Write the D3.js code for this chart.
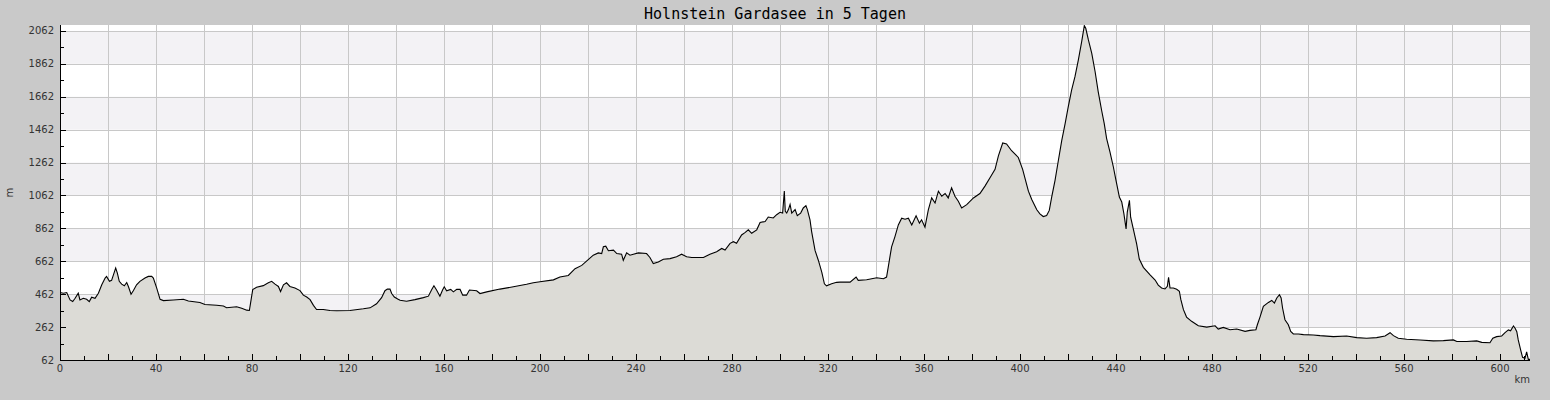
<!DOCTYPE html>
<html>
<head>
<meta charset="utf-8">
<script src="https://cdn.jsdelivr.net/npm/d3@7"></script>
<style>
    body { margin: 0; background: #c9c9c9; }
    svg { display: block; }
</style>
</head>
<body>
<div id="chart"></div>
<script>
// Tour profile: distance (km) and elevation (m)
const distanceKm = [
    0, 1.4, 2.8, 4.2, 5.3, 6.3, 7.6, 8.3, 9.7, 11.1, 12.2, 13.2, 14.6, 16.0, 17.4, 18.8, 19.4, 20.6, 21.5, 22.5,
    23.2, 23.9, 24.7, 25.7, 26.8, 27.8, 28.5, 29.6, 30.6, 31.9, 33.3, 35.4, 36.8, 38.2, 38.9, 40.3, 41.7, 43.1, 47.2, 51.4,
    53.5, 58.3, 60.4, 65.3, 68.1, 69.4, 73.6, 75.7, 77.8, 78.9, 79.4, 80.3, 81.9, 84.7, 86.8, 88.2, 89.6, 91.0, 91.9, 93.1,
    94.4, 95.8, 97.9, 100, 101.4, 102.8, 104.2, 105.6, 106.9, 109.7, 112.5, 115.3, 120.8, 126.4, 129.2, 131.9, 134.0, 135.4, 136.4, 137.5,
    138.2, 139.3, 140.7, 141.7, 144.4, 147.9, 151.4, 153.5, 154.9, 155.8, 156.9, 158.3, 159.4, 160.1, 161.1, 162.8, 163.9, 165.3, 166.7, 167.8,
    169.4, 170.6, 173.6, 175.0, 177.8, 183.3, 188.9, 194.4, 197.2, 200, 205.6, 208.3, 211.8, 214.6, 217.4, 220.1, 222.2, 224.3, 225.7, 226.4,
    227.4, 228.5, 230.6, 232.0, 234.0, 234.7, 236.1, 237.5, 238.9, 241.0, 244.4, 245.8, 247.2, 249.3, 251.4, 254.2, 256.9, 259.0, 261.1, 263.2,
    268.1, 270.8, 273.6, 275.7, 277.1, 279.2, 280.6, 281.9, 284.0, 285.4, 286.8, 288.2, 290.3, 291.7, 293.8, 295.1, 297.2, 298.6, 300, 301.1,
    301.8, 302.2, 302.8, 303.5, 304.2, 304.9, 306.3, 307.2, 308.6, 309.7, 310.8, 311.4, 312.5, 313.2, 314.6, 316.0, 317.4, 318.5, 319.4, 321.5,
    323.6, 325, 329.2, 331.7, 332.6, 336.1, 340.3, 343.1, 344.4, 345.1, 346.5, 347.9, 349.3, 350.7, 352.1, 353.5, 354.9, 356.7, 358.1, 359.0,
    360.4, 361.8, 363.2, 364.6, 366.0, 367.4, 368.8, 370.1, 371.5, 372.9, 374.3, 375.7, 377.8, 380.6, 383.3, 385.4, 387.5, 389.6, 391.0, 392.8,
    394.4, 396.5, 399.3, 401.1, 403.5, 404.9, 407.0, 408.3, 409.7, 411.1, 412.2, 413.2, 414.6, 416.0, 417.4, 418.8, 420.1, 421.5, 422.9, 424.3,
    425.7, 426.8, 427.4, 428.5, 429.9, 431.3, 432.6, 434.0, 435.1, 436.1, 437.5, 438.9, 440.0, 441.4, 442.4, 443.3, 444.2, 444.7, 445.6, 446.1,
    447.2, 448.6, 449.7, 451.4, 454.2, 456.3, 457.6, 459.0, 460.4, 461.4, 461.9, 462.5, 463.9, 465.3, 466.4, 467.0, 468.1, 469.4, 471.5, 474.3,
    477.8, 481.3, 482.6, 484.7, 487.5, 490.3, 493.8, 495.8, 498.3, 498.9, 500.0, 501.4, 503.5, 504.9, 506.0, 507.0, 508.1, 508.8, 509.4, 510.4,
    511.8, 512.8, 513.9, 516.0, 518.1, 522.2, 525, 530.6, 536.1, 540.3, 544.4, 548.6, 552.1, 554.2, 555.6, 557.6, 561.1, 566.7, 572.2, 576.4,
    580.6, 582, 586.1, 590.3, 592.4, 595.8, 597, 598.6, 600.7, 602.1, 603.5, 604.4, 605.6, 606.3, 607, 607.6, 608.6, 609.4, 610.4, 611.1,
    611.8, 612.5
];
const elevationM = [
    472, 468, 472, 427, 417, 437, 468, 427, 437, 431, 417, 444, 437, 468, 519, 560, 570, 540, 546, 590,
    621, 590, 540, 523, 513, 533, 509, 462, 484, 519, 540, 560, 570, 570, 560, 499, 431, 423, 427, 431,
    421, 412, 399, 395, 390, 380, 386, 376, 365, 363, 408, 490, 504, 514, 531, 540, 523, 509, 478, 519,
    531, 509, 499, 484, 456, 445, 429, 394, 369, 369, 363, 361, 363, 373, 379, 404, 441, 483, 493, 493,
    466, 445, 433, 425, 419, 429, 441, 450, 491, 513, 487, 450, 487, 507, 483, 491, 476, 491, 491, 456,
    456, 487, 483, 466, 476, 493, 507, 522, 532, 538, 549, 566, 576, 617, 637, 672, 699, 713, 709, 750,
    754, 726, 730, 709, 705, 668, 713, 699, 705, 713, 709, 685, 648, 658, 674, 678, 689, 705, 689, 685,
    685, 705, 720, 740, 730, 771, 781, 771, 822, 836, 853, 832, 853, 898, 904, 931, 925, 945, 960, 955,
    1089, 966, 955, 976, 1007, 955, 976, 939, 955, 986, 1000, 976, 914, 841, 728, 667, 596, 525, 513, 525,
    534, 535, 535, 566, 546, 550, 562, 556, 566, 627, 750, 812, 883, 924, 918, 924, 883, 939, 894, 914,
    869, 975, 1047, 1016, 1088, 1057, 1074, 1047, 1108, 1057, 1027, 986, 1006, 1047, 1074, 1119, 1170, 1221, 1303, 1381,
    1375, 1334, 1293, 1221, 1088, 1037, 975, 950, 934, 940, 971, 1052, 1154, 1276, 1397, 1499, 1601, 1702, 1784, 1885,
    1997, 2094, 2078, 2007, 1926, 1814, 1692, 1580, 1499, 1408, 1326, 1235, 1154, 1052, 1022, 950, 859, 961, 1032, 930,
    859, 768, 676, 625, 580, 548, 517, 500, 494, 510, 565, 500, 500, 492, 480, 430, 368, 323, 297, 270,
    262, 270, 250, 260, 246, 250, 236, 242, 246, 276, 323, 388, 412, 424, 408, 439, 459, 439, 378, 307,
    276, 236, 220, 220, 216, 214, 210, 204, 208, 198, 194, 198, 208, 228, 210, 194, 188, 184, 178, 180,
    184, 174, 174, 178, 169, 167, 194, 204, 208, 228, 245, 240, 269, 255, 234, 184, 123, 78, 72, 112,
    66, 66
];

const yMajorTicks = [62, 262, 462, 662, 862, 1062, 1262, 1462, 1662, 1862, 2062];
const yMinorTicks = [162, 362, 562, 762, 962, 1162, 1362, 1562, 1762, 1962];
const xLabelTicks = [0, 40, 80, 120, 160, 200, 240, 280, 320, 360, 400, 440, 480, 520, 560, 600];

const chartTitle = "Holnstein Gardasee in 5 Tagen";

const svgWidth = 1550, svgHeight = 400;
const margin = { top: 25, right: 20, bottom: 40, left: 60 };
const width = svgWidth - margin.left - margin.right;
const height = svgHeight - margin.top - margin.bottom;

const data = distanceKm.map((d, i) => ({ km: d, m: elevationM[i] }));

const x = d3.scaleLinear()
    .domain([0, 612.5])
    .range([0, width]);

const y = d3.scaleLinear()
    .domain([62, 2098])
    .range([height, 0]);

const svg = d3.select("#chart")
    .append("svg")
    .attr("width", svgWidth)
    .attr("height", svgHeight)
    .style("background", "#c9c9c9");

svg.append("text")
    .attr("x", svgWidth / 2)
    .attr("y", 19)
    .attr("text-anchor", "middle")
    .style("font-family", "'DejaVu Sans Mono', monospace")
    .style("font-size", "15px")
    .style("fill", "#000")
    .text(chartTitle);

const g = svg.append("g")
    .attr("transform", `translate(${margin.left},${margin.top})`);

// plot background + alternating bands
g.append("rect")
    .attr("width", width)
    .attr("height", height)
    .style("fill", "#ffffff");

const bands = d3.range(0, yMajorTicks.length - 1)
    .filter(i => i % 2 === 1)
    .map(i => [yMajorTicks[i], yMajorTicks[i + 1]]);

g.selectAll("rect.band")
    .data(bands)
    .enter().append("rect")
    .attr("class", "band")
    .attr("x", 0)
    .attr("width", width)
    .attr("y", d => y(d[1]))
    .attr("height", d => y(d[0]) - y(d[1]))
    .style("fill", "#f3f2f5");

// grid
g.selectAll("line.hgrid")
    .data(yMajorTicks.slice(1))
    .enter().append("line")
    .attr("class", "hgrid")
    .attr("x1", 0)
    .attr("x2", width)
    .attr("y1", d => Math.round(y(d)) + 0.5)
    .attr("y2", d => Math.round(y(d)) + 0.5)
    .style("stroke", "#c8c8c8");

g.selectAll("line.vgrid")
    .data(d3.range(20, 612, 20))
    .enter().append("line")
    .attr("class", "vgrid")
    .attr("x1", d => Math.round(x(d)) + 0.5)
    .attr("x2", d => Math.round(x(d)) + 0.5)
    .attr("y1", 0)
    .attr("y2", height)
    .style("stroke", "#c8c8c8");

// elevation area + line
g.append("clipPath")
    .attr("id", "plotClip")
    .append("rect")
    .attr("width", width)
    .attr("height", height);

const area = d3.area()
    .x(d => x(d.km))
    .y0(height)
    .y1(d => y(d.m));

const line = d3.line()
    .x(d => x(d.km))
    .y(d => y(d.m));

g.append("path")
    .datum(data)
    .attr("clip-path", "url(#plotClip)")
    .attr("d", area)
    .style("fill", "#dcdbd6");

g.append("path")
    .datum(data)
    .attr("clip-path", "url(#plotClip)")
    .attr("d", line)
    .style("fill", "none")
    .style("stroke", "#000")
    .style("stroke-width", 1.1);

// axes (ticks point inward)
const yAxis = g.append("g").attr("class", "axis");
yAxis.append("line")
    .attr("x1", 0.5).attr("x2", 0.5)
    .attr("y1", 0).attr("y2", height)
    .style("stroke", "#000");
yAxis.selectAll("line.ymaj")
    .data(yMajorTicks)
    .enter().append("line")
    .attr("x1", 0).attr("x2", 6)
    .attr("y1", d => Math.round(y(d)) + 0.5)
    .attr("y2", d => Math.round(y(d)) + 0.5)
    .style("stroke", "#000");
yAxis.selectAll("line.ymin")
    .data(yMinorTicks)
    .enter().append("line")
    .attr("x1", 0).attr("x2", 4)
    .attr("y1", d => Math.round(y(d)) + 0.5)
    .attr("y2", d => Math.round(y(d)) + 0.5)
    .style("stroke", "#000");
yAxis.selectAll("text")
    .data(yMajorTicks)
    .enter().append("text")
    .attr("x", -6)
    .attr("y", d => y(d))
    .attr("dy", "0.35em")
    .attr("text-anchor", "end")
    .style("font-family", "'DejaVu Sans', sans-serif")
    .style("font-size", "10px")
    .style("fill", "#333")
    .text(d => d);

const xAxis = g.append("g").attr("class", "axis");
xAxis.append("line")
    .attr("x1", 0).attr("x2", width)
    .attr("y1", height + 0.5).attr("y2", height + 0.5)
    .style("stroke", "#000");
xAxis.selectAll("line.xtick")
    .data(d3.range(10, 612, 10))
    .enter().append("line")
    .attr("x1", d => Math.round(x(d)) + 0.5)
    .attr("x2", d => Math.round(x(d)) + 0.5)
    .attr("y1", height)
    .attr("y2", d => d % 20 === 0 ? height - 6 : height - 4)
    .style("stroke", "#000");
xAxis.selectAll("text")
    .data(xLabelTicks)
    .enter().append("text")
    .attr("x", d => x(d))
    .attr("y", height + 12)
    .attr("text-anchor", "middle")
    .style("font-family", "'DejaVu Sans', sans-serif")
    .style("font-size", "10px")
    .style("fill", "#333")
    .text(d => d);

// axis names
svg.append("text")
    .attr("transform", `translate(13,${margin.top + height / 2}) rotate(-90)`)
    .attr("text-anchor", "middle")
    .style("font-family", "'DejaVu Sans', sans-serif")
    .style("font-size", "10px")
    .style("fill", "#333")
    .text("m");

svg.append("text")
    .attr("x", margin.left + width)
    .attr("y", 383)
    .attr("text-anchor", "end")
    .style("font-family", "'DejaVu Sans', sans-serif")
    .style("font-size", "10px")
    .style("fill", "#333")
    .text("km");
</script>
</body>
</html>
